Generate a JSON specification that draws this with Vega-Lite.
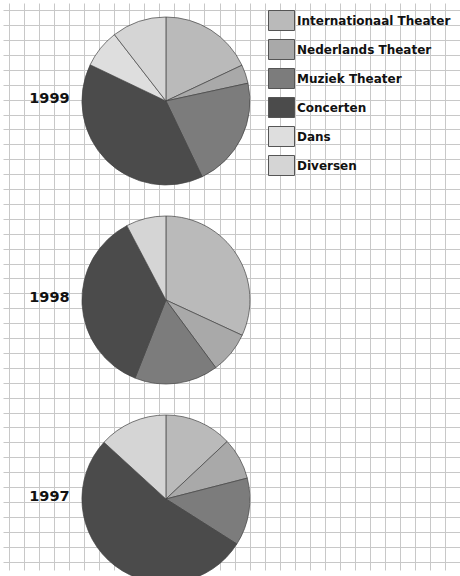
{
  "$schema": "https://vega.github.io/schema/vega-lite/v6.json",
  "width": 460,
  "height": 576,
  "autosize": {"type": "fit", "contains": "padding"},
  "padding": 0,
  "background": "white",
  "config": {"view": {"stroke": null}},
  "data": {"values": [
    {"year": "1999", "category": "Internationaal Theater", "value": 18.0},
    {"year": "1999", "category": "Nederlands Theater", "value": 3.6},
    {"year": "1999", "category": "Muziek Theater", "value": 21.3},
    {"year": "1999", "category": "Concerten", "value": 39.2},
    {"year": "1999", "category": "Dans", "value": 7.4},
    {"year": "1999", "category": "Diversen", "value": 10.5},
    {"year": "1998", "category": "Internationaal Theater", "value": 31.9},
    {"year": "1998", "category": "Nederlands Theater", "value": 8.0},
    {"year": "1998", "category": "Muziek Theater", "value": 16.1},
    {"year": "1998", "category": "Concerten", "value": 36.3},
    {"year": "1998", "category": "Diversen", "value": 7.7},
    {"year": "1997", "category": "Internationaal Theater", "value": 13.0},
    {"year": "1997", "category": "Nederlands Theater", "value": 8.0},
    {"year": "1997", "category": "Muziek Theater", "value": 13.0},
    {"year": "1997", "category": "Concerten", "value": 52.8},
    {"year": "1997", "category": "Diversen", "value": 13.2}
  ]},
  "layer": [
    {
      "mark": {"type": "point", "opacity": 0},
      "encoding": {
        "x": {"datum": 0, "type": "quantitative",
          "scale": {"domain": [0, 460], "nice": false, "zero": false},
          "axis": {"values": [6,21.1,36.3,51.4,66.6,81.7,96.8,112,127.1,142.3,157.4,172.5,187.7,202.8,218,233.1,248.2,263.4,278.5,293.7,308.8,323.9,339.1,354.2,369.4,384.5,399.6,414.8,429.9,445.1],
            "tickCount": 200, "grid": true, "gridColor": "#c8c8c8", "gridWidth": 1, "labels": false, "ticks": false, "domain": false, "title": null, "minExtent": 0, "maxExtent": 0}},
        "y": {"datum": 0, "type": "quantitative",
          "scale": {"domain": [0, 576], "nice": false, "zero": false, "reverse": true},
          "axis": {"values": [7.3,22.4,37.6,52.7,67.9,83,98.1,113.3,128.4,143.6,158.7,173.8,189,204.1,219.3,234.4,249.5,264.7,279.8,295,310.1,325.2,340.4,355.5,370.7,385.8,400.9,416.1,431.2,446.4,461.5,476.6,491.8,506.9,522.1,537.2,552.3,567.5],
            "tickCount": 200, "grid": true, "gridColor": "#c8c8c8", "gridWidth": 1, "labels": false, "ticks": false, "domain": false, "title": null, "minExtent": 0, "maxExtent": 0}}
      }
    },
    {
      "transform": [
        {"stack": "value", "groupby": ["year"], "offset": "normalize", "as": ["v0", "v1"]}
      ],
      "mark": {"type": "arc", "outerRadius": 84, "stroke": "#444444", "strokeWidth": 0.7},
      "encoding": {
        "x": {"datum": 164, "type": "quantitative"},
        "y": {"field": "year", "type": "ordinal", "sort": "descending", "scale": {"type": "point", "range": [98, 496], "padding": 0}, "axis": null},
        "theta": {"field": "v0", "type": "quantitative", "scale": {"domain": [0, 1], "range": [0, 6.2832]}},
        "theta2": {"field": "v1"},
        "color": {"field": "category", "type": "nominal",
          "scale": {"domain": ["Internationaal Theater", "Nederlands Theater", "Muziek Theater", "Concerten", "Dans", "Diversen"],
            "range": ["#bababa", "#a9a9a9", "#7c7c7c", "#4b4b4b", "#dedede", "#d5d5d5"]},
          "legend": {"orient": "none", "legendX": 268, "legendY": 7, "title": null,
            "symbolType": "M-1.3,-1H1.3V1H-1.3Z", "symbolSize": 400, "symbolStrokeColor": "#555555", "symbolStrokeWidth": 1, "symbolOpacity": 1,
            "labelFont": "DejaVu Sans", "labelFontWeight": "bold", "labelFontSize": 12, "labelColor": "#111111",
            "labelOffset": 5, "rowPadding": 4, "padding": 0}}
      }
    },
    {
      "transform": [{"filter": "datum.category == 'Concerten'"}],
      "mark": {"type": "text", "align": "right", "baseline": "middle", "font": "DejaVu Sans", "fontWeight": "bold", "fontSize": 14.5, "dy": -2, "color": "#111111"},
      "encoding": {
        "x": {"datum": 67, "type": "quantitative"},
        "y": {"field": "year", "type": "ordinal", "sort": "descending", "scale": {"type": "point", "range": [98, 496], "padding": 0}, "axis": null},
        "text": {"field": "year", "type": "nominal"}
      }
    }
  ],
  "resolve": {"scale": {"y": "independent"}}
}
